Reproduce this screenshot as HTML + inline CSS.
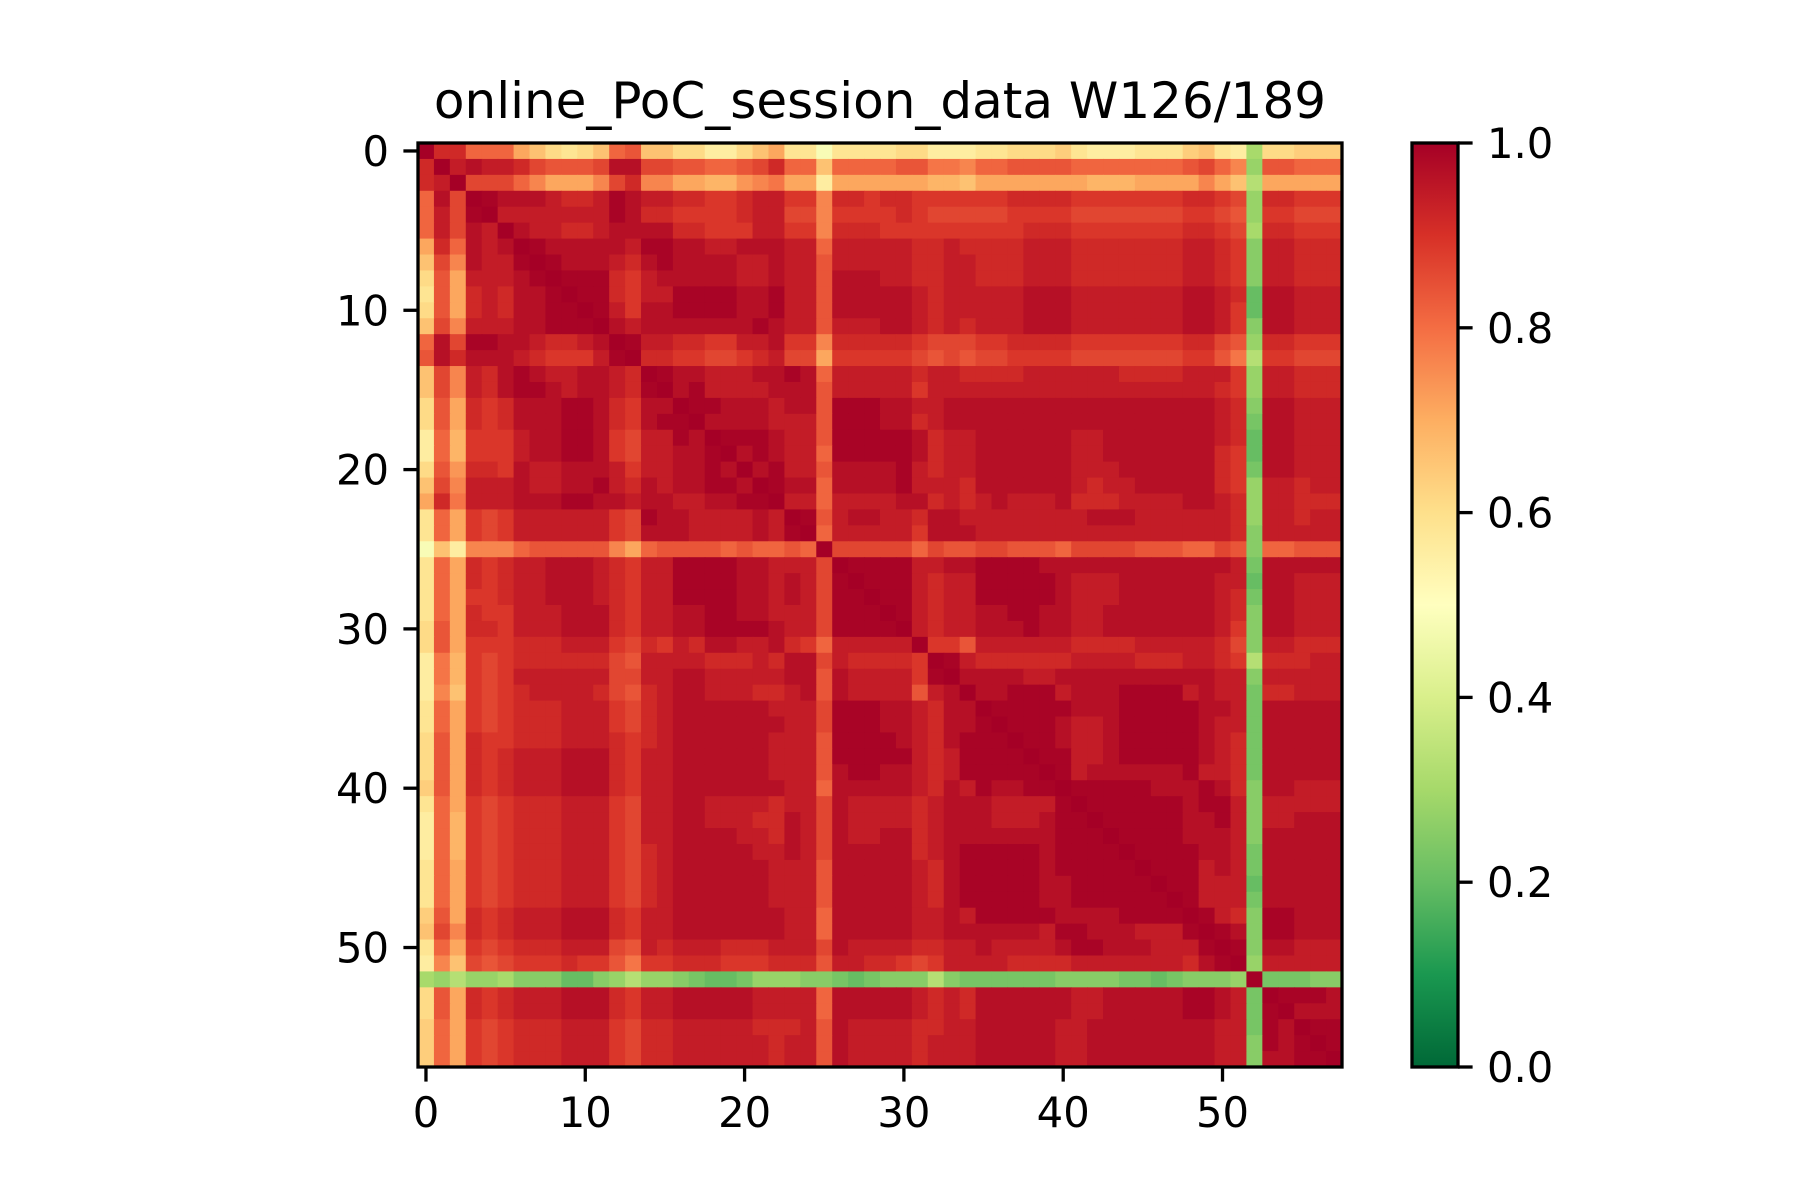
<!DOCTYPE html>
<html><head><meta charset="utf-8"><title>online_PoC_session_data W126/189</title>
<style>
html,body{margin:0;padding:0;background:#fff;}
svg{display:block;font-family:"DejaVu Sans","Liberation Sans",sans-serif;}
</style></head>
<body>
<svg id="chart" width="1800" height="1200" viewBox="0 0 1800 1200" xmlns="http://www.w3.org/2000/svg">
<defs>
<linearGradient id="cmap" x1="0" y1="1" x2="0" y2="0">
<stop offset="0" stop-color="#006837"/><stop offset="0.1" stop-color="#1a9850"/><stop offset="0.2" stop-color="#66bd63"/><stop offset="0.3" stop-color="#a6d96a"/><stop offset="0.4" stop-color="#d9ef8b"/><stop offset="0.5" stop-color="#ffffbf"/><stop offset="0.6" stop-color="#fee08b"/><stop offset="0.7" stop-color="#fdae61"/><stop offset="0.8" stop-color="#f46d43"/><stop offset="0.9" stop-color="#d73027"/><stop offset="1" stop-color="#a50026"/>
</linearGradient>
</defs>
<text x="880" y="118" font-size="50" text-anchor="middle" fill="#000">online_PoC_session_data W126/189</text>
<g id="cells"></g>
<g id="axes"></g>
<g id="cbar"></g>
</svg>
<script>
// Lower-triangle correlation values, encoded: value = 0.125 + 0.0255 * index("0123456789abcdefghijklmnopqrstuvwxyz")
const codeChars = "0123456789abcdefghijklmnopqrstuvwxyz";
const lowerRows = [
"z","vz","vwz","rxtz","rwtyz","rwtxwz","nvrxwxz","ltpxwwyz","jsnwwwxyz","isnvwvxxyz","jsnvwvxxyyz","ltpwwwxxyyyz",
"rxtyyxxwvvwxz","sxvxxxwvuuuwyz","ltpwvxyxwwxxwvz","ltpwvxyyxwxxwvyz","jsnvuvxxxyyxvuxxz","jsnvuvxxxyyxvuxyyz",
"hrmuuuwxxyyxutwwyxz","hrmuuuwxxyyxutwwxxyz","jsovvuxwwxxxwuwwxxyxz","ltpwwwxwwxxywvxwxxyyxz","nvqwwwxxxyyxxwxxwwxxyyz",
"irnutuwwwwwwutyxxwwwwxwz","irnutuwwwwwwutxxxwwwwxwyz","elhppprssssspnrssssrsrrsrz",
"irn"+"vuv"+"wwxxxw"+"vu"+"wwyyyyxxwww"+"t"+"z",
"irn"+"vuv"+"wwxxxw"+"vu"+"wwyyyyxxwxw"+"t"+"y"+"z",
"irn"+"uuv"+"wwxxxw"+"vu"+"wwyyyyxxwxw"+"t"+"yy"+"z",
"irn"+"vuu"+"wwwxxx"+"vu"+"wwxxyyxxwww"+"t"+"yyy"+"z",
"jsn"+"vvu"+"wwwxxx"+"vu"+"wwxxyyyyxww"+"t"+"yyyy"+"z",
"jsn"+"uuu"+"vvvwww"+"ut"+"vuwvxxwwxvu"+"r"+"www"+"ww"+"z",
"hqm"+"utu"+"vvvvvv"+"ts"+"wwwwvvvwvxx"+"t"+"wvv"+"vvu"+"z",
"hqm"+"utu"+"wwwwww"+"tt"+"wwxxwwwwwxx"+"s"+"xww"+"wwuy"+"z",
"hpl"+"utu"+"vwwwwv"+"ts"+"vwxxwwwvvwx"+"s"+"xww"+"wwswx"+"z",
"irn"+"utu"+"vvvwww"+"ut"+"vwxxxxxxwww"+"t"+"yyy"+"xxwvxx"+"z",
"irn"+"utu"+"vvvwww"+"ut"+"vwxxxxxxxww"+"t"+"yyy"+"xxwvxxy"+"z",
"jsn"+"vuu"+"vvvwww"+"vu"+"vwxxxxxxwww"+"s"+"yyy"+"yxwvxyyy"+"z",
"jsn"+"vuv"+"wwwxxx"+"vu"+"wwxxxxxxwww"+"s"+"yyy"+"yywvwyyyy"+"z",
"jsn"+"vuv"+"wwwxxx"+"vu"+"wwxxxxxxwww"+"s"+"xyy"+"xxwvwyyyyy"+"z",
"ksn"+"vuv"+"wwwxxx"+"vu"+"wwxxxxxxxww"+"r"+"xxx"+"xxwvxwyxxyy"+"z",
"irn"+"utu"+"vvvwww"+"ut"+"wwxxwwwwvww"+"t"+"xww"+"wwvwxxxwwwwy"+"z",
"hrm"+"utu"+"vvvwww"+"ut"+"wwxxwwwvvxw"+"t"+"xww"+"wwvwxxxwwwxyy"+"z",
"hrm"+"utu"+"vvvwww"+"ut"+"wwxxxxwwvxw"+"t"+"xww"+"xxvwxxxxxxxyyy"+"z",
"hrm"+"utu"+"vvvwww"+"ut"+"vwxxxxxwwxw"+"t"+"xxx"+"xxvwxyyyyyxyyyy"+"z",
"irn"+"utu"+"vvvwww"+"ut"+"vwxxxxxxwww"+"s"+"xxx"+"xxwvxyyyyyxyyyyy"+"z",
"irn"+"utu"+"vvvwww"+"ut"+"vwxxxxxxwww"+"s"+"xxx"+"xxwvxyyyyyxxyyyyy"+"z",
"irn"+"utu"+"vvvwww"+"ut"+"vwxxxxxxwww"+"s"+"xxx"+"xxwvxyyyyyxxyyyyyy"+"z",
"ksn"+"vuv"+"wwwxxx"+"vu"+"wwxxxxxxxww"+"r"+"xxx"+"xxwwxwyyyyyxxxxyyyy"+"z",
"ltp"+"vuv"+"wwwxxx"+"vu"+"wwxxxxxxxww"+"r"+"xxx"+"xxwwxxxxxxwyyxxxwwwy"+"z",
"irn"+"utu"+"vvvwww"+"ts"+"wvwwwvvvwww"+"t"+"xww"+"wwvvwwxwwwwxyyxxxwwwy"+"z",
"hpl"+"tst"+"uuuvuu"+"sq"+"uuvvvuuuvvv"+"s"+"wwv"+"vutuwwwwvvvvwwwwwwwvxy"+"z",
"768"+"667"+"555335"+"68"+"66543346665"+"5"+"434"+"55585444444555544345556"+"z",
"jsn"+"vuv"+"wwwxxx"+"vu"+"wwxxxxxwwww"+"r"+"xxx"+"xxwvwvxxxxxxwwxxxxxyyxw"+"4"+"z",
"jsn"+"vuv"+"wwwxxx"+"vu"+"wwxxxxxwwww"+"r"+"xxx"+"xxwvwvxxxxxxwwxxxxxyyxw"+"4"+"y"+"z",
"krn"+"utu"+"vvvwww"+"ut"+"vvwwwwwvvvw"+"s"+"xww"+"wwvvwwxxxxxwwxxxxxxxxww"+"4"+"yx"+"z",
"krn"+"utu"+"vvvwww"+"ut"+"vvwwwwwwvww"+"s"+"xww"+"wwvwwwxxxxxwwxxxxxxxxww"+"5"+"yxy"+"z",
"krn"+"utu"+"vvvwww"+"ut"+"vvwwwwwwvww"+"s"+"xww"+"wwvwwwxxxxxwwxxxxxxxxww"+"5"+"xxyy"+"z"
];
const xTicks = [0,10,20,30,40,50];
const yTicks = [0,10,20,30,40,50];
const cbarTicks = [0.0,0.2,0.4,0.6,0.8,1.0];
const cbarTickLabels = ["0.0","0.2","0.4","0.6","0.8","1.0"];

const N = 58;
const X0 = 418, Y0 = 143, SIZE = 924, CELL = SIZE / N;
const CB_X = 1412, CB_W = 46;
const NS = "http://www.w3.org/2000/svg";
function decode(ch){ const i = codeChars.indexOf(ch); return i < 0 ? 0.94 : Math.min(1, 0.125 + 0.0255 * i); }
function val(i, j){
  if (i === j) return 1.0;
  const r = Math.max(i, j), c = Math.min(i, j);
  const s = lowerRows[r] || "";
  return decode(s.charAt(c));
}
const stops = [[0,[0,104,55]],[0.1,[26,152,80]],[0.2,[102,189,99]],[0.3,[166,217,106]],[0.4,[217,239,139]],[0.5,[255,255,191]],[0.6,[254,224,139]],[0.7,[253,174,97]],[0.8,[244,109,67]],[0.9,[215,48,39]],[1.0,[165,0,38]]];
function cmap(v){
  v = Math.max(0, Math.min(1, v));
  for (let k = 0; k < stops.length - 1; k++){
    const a = stops[k], b = stops[k+1];
    if (v <= b[0]){
      const t = (v - a[0]) / (b[0] - a[0]);
      const c = a[1].map((x, m) => Math.round(x + (b[1][m] - x) * t));
      return "rgb(" + c.join(",") + ")";
    }
  }
  return "rgb(165,0,38)";
}
function xPos(j){ return X0 + j * CELL; }
function yPos(i){ return Y0 + i * CELL; }
function cbY(v){ return Y0 + SIZE - v * SIZE; }

const cells = document.getElementById("cells");
for (let i = 0; i < N; i++){
  for (let j = 0; j < N; j++){
    const r = document.createElementNS(NS, "rect");
    r.setAttribute("x", xPos(j).toFixed(2));
    r.setAttribute("y", yPos(i).toFixed(2));
    r.setAttribute("width", (CELL + 0.6).toFixed(2));
    r.setAttribute("height", (CELL + 0.6).toFixed(2));
    r.setAttribute("fill", cmap(val(i, j)));
    
    
    cells.appendChild(r);
  }
}
const axes = document.getElementById("axes");
function mk(tag, attrs, parent){
  const e = document.createElementNS(NS, tag);
  for (const k in attrs) e.setAttribute(k, attrs[k]);
  parent.appendChild(e);
  return e;
}
const frame = mk("rect", {x: X0, y: Y0, width: SIZE, height: SIZE, fill: "none", stroke: "#000", "stroke-width": 3.3}, axes);


xTicks.forEach(t => {
  const x = xPos(t + 0.5);
  const ln = mk("line", {x1: x, y1: Y0 + SIZE, x2: x, y2: Y0 + SIZE + 14.6, stroke: "#000", "stroke-width": 3.3}, axes);
  
  
  const tx = mk("text", {x: x, y: Y0 + SIZE + 29 + 31, "font-size": 41.7, "text-anchor": "middle", fill: "#000"}, axes);
  tx.textContent = String(t);
  
  
});
yTicks.forEach(t => {
  const y = yPos(t + 0.5);
  const ln = mk("line", {x1: X0 - 14.6, y1: y, x2: X0, y2: y, stroke: "#000", "stroke-width": 3.3}, axes);
  
  
  const tx = mk("text", {x: X0 - 29, y: y + 15, "font-size": 41.7, "text-anchor": "end", fill: "#000"}, axes);
  tx.textContent = String(t);
  
  
});
const cbar = document.getElementById("cbar");
const grad = mk("rect", {x: CB_X, y: Y0, width: CB_W, height: SIZE, fill: "url(#cmap)", stroke: "#000", "stroke-width": 3.3}, cbar);


cbarTicks.forEach((v, k) => {
  const y = cbY(v);
  const ln = mk("line", {x1: CB_X + CB_W, y1: y, x2: CB_X + CB_W + 14.6, y2: y, stroke: "#000", "stroke-width": 3.3}, cbar);
  
  
  const tx = mk("text", {x: CB_X + CB_W + 29, y: y + 15, "font-size": 41.7, "text-anchor": "start", fill: "#000"}, cbar);
  tx.textContent = cbarTickLabels[k];
  
  
});
</script>
</body></html>
